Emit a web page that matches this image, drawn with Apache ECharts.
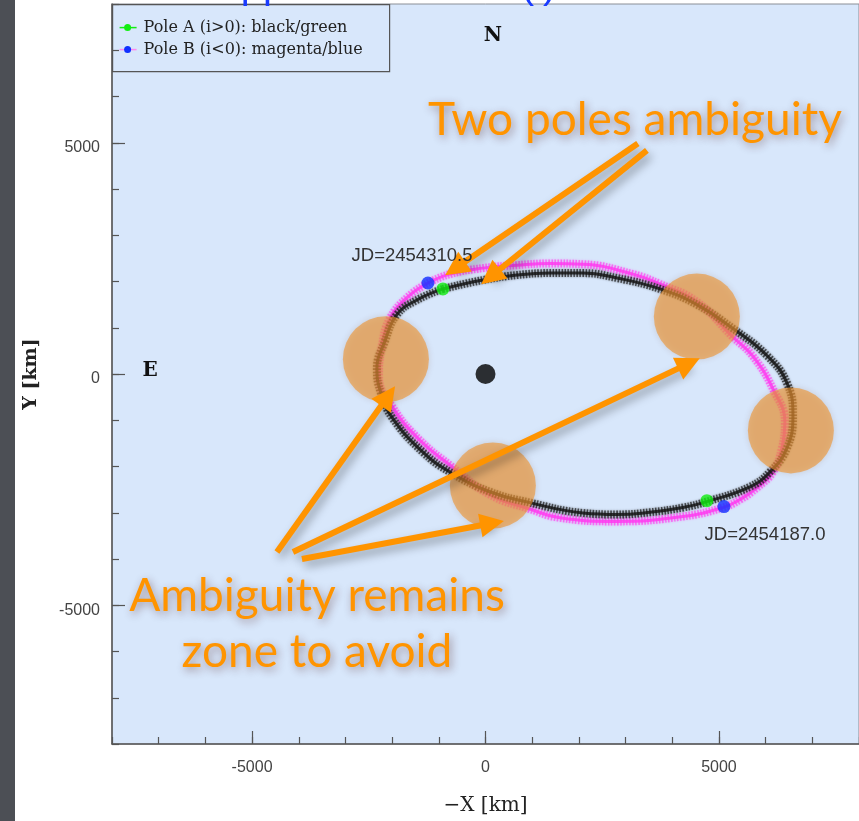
<!DOCTYPE html>
<html>
<head>
<meta charset="utf-8">
<script src="https://cdn.jsdelivr.net/npm/echarts@6/dist/echarts.min.js"></script>
<style>
html,body{margin:0;padding:0;background:#ffffff;}
#main{width:859px;height:821px;}
</style>
</head>
<body>
<div id="main"></div>
<script>
// ---- data (km) ----
const axisMin = -8000;
const axisMax = 8000;
const majorTicks = [-5000, 0, 5000];

// Pole A (i>0) orbit, black
const poleAOrbit = [
  [-912,1839],[-56,2032],[673,2139],[1379,2182],[2086,2182],[2814,2075],[3735,1840],
  [4528,1500],[5299,984],[6027,400],[6456,-192],[6585,-898],[6456,-1604],[6092,-2118],
  [5663,-2439],[4742,-2759],[4228,-2888],[3521,-2990],[2814,-3037],[2086,-3005],
  [951,-2781],[94,-2546],[-763,-2118],[-1341,-1690],[-1984,-963],[-2241,-406],
  [-2326,107],[-2155,706],[-1898,1283],[-1469,1600],[-912,1839]
];
// Pole B (i<0) orbit, magenta
const poleBOrbit = [
  [-1233,1968],[-762,2160],[-56,2289],[673,2353],[1379,2390],[2086,2374],[3157,2160],
  [3735,1946],[4528,1561],[5299,800],[5727,385],[6156,-321],[6413,-1048],[6349,-1604],
  [6156,-2118],[5813,-2460],[5449,-2717],[5085,-2888],[4228,-3080],[2814,-3187],
  [1593,-3110],[951,-2920],[94,-2610],[-763,-1968],[-1405,-1433],[-1984,-727],
  [-2284,-43],[-2219,599],[-2048,1198],[-1662,1668],[-1233,1968]
];
// epoch markers
const poleADots = [[-912,1839],[4742,-2738]];
const poleBDots = [[-1233,1968],[5107,-2866]];
const primary = [[0,0]];
// zones to avoid (annotation discs)
const zones = [[-2133,321],[4527,1241],[6541,-1219],[158,-2412]];
// annotation arrows: [tail, head]
const arrowsTop = [
  [[3264,4984],[-651,2282]],
  [[3457,4834],[109,2103]]
];
const arrowsBottom = [
  [[-4467,-3850],[-2086,-475]],
  [[-4124,-3850],[4357,229]],
  [[-3932,-4000],[141,-3228]]
];
const legendLabels = ['Pole A (i>0): black/green', 'Pole B (i<0): magenta/blue'];
const jdLabels = ['JD=2454310.5', 'JD=2454187.0'];

// ---- chart ----
const chart = echarts.init(document.getElementById('main'), null, {renderer:'canvas', width:859, height:821});

const orange = '#ff9400';
const annotShadow = {textShadowColor:'rgba(80,30,30,0.45)', textShadowBlur:8, textShadowOffsetX:2, textShadowOffsetY:3};

function orbitSeries(data, color, z, op){
  return [
    {type:'line', data:data, smooth:0.45, symbol:'none', silent:true, z:z,
     lineStyle:{color:color, width:8, type:[1.5,1.5], opacity:op, shadowBlur:2, shadowColor:color}},
    {type:'line', data:data, smooth:0.45, symbol:'none', silent:true, z:z,
     lineStyle:{color:color, width:3, opacity:0.85}}
  ];
}
const fmt = v => String(v);

const option = {
  animation:false,
  backgroundColor:'#ffffff',
  grid:{left:112, top:4, right:0, bottom:69, show:true, backgroundColor:'#d8e7fb', borderColor:'#8a8f96', borderWidth:1},
  xAxis:[
    {type:'value', min:axisMin, max:axisMax, position:'bottom',
     axisLine:{show:true, onZero:false, lineStyle:{color:'#555', width:1.5}},
     axisTick:{show:true, inside:true, length:13, customValues:majorTicks, lineStyle:{color:'#555', width:1.2}},
     axisLabel:{customValues:majorTicks, formatter:fmt, color:'#444', fontSize:16, margin:16, fontFamily:'Liberation Sans'},
     splitLine:{show:false},
     name:'\u2212X [km]', nameLocation:'middle', nameGap:52,
     nameTextStyle:{fontFamily:'DejaVu Serif', fontSize:20, color:'#222'}},
    {type:'value', min:axisMin, max:axisMax, interval:1000, position:'bottom',
     axisLine:{show:false, onZero:false}, axisTick:{show:true, inside:true, length:7, lineStyle:{color:'#555', width:1.2}},
     axisLabel:{show:false}, splitLine:{show:false}}
  ],
  yAxis:[
    {type:'value', min:axisMin, max:axisMax, position:'left',
     axisLine:{show:true, onZero:false, lineStyle:{color:'#555', width:1.5}},
     axisTick:{show:true, inside:true, length:13, customValues:majorTicks, lineStyle:{color:'#555', width:1.2}},
     axisLabel:{customValues:majorTicks, formatter:fmt, color:'#444', fontSize:16, margin:12, fontFamily:'Liberation Sans', verticalAlign:'top', lineHeight:10},
     splitLine:{show:false},
     name:'Y [km]', nameLocation:'middle', nameGap:71, nameRotate:90,
     nameTextStyle:{fontFamily:'DejaVu Serif', fontSize:19, fontWeight:'bold', color:'#222'}},
    {type:'value', min:axisMin, max:axisMax, interval:1000, position:'left',
     axisLine:{show:false, onZero:false}, axisTick:{show:true, inside:true, length:7, lineStyle:{color:'#555', width:1.2}},
     axisLabel:{show:false}, splitLine:{show:false}}
  ],
  series:[
    ...orbitSeries(poleBOrbit, '#ff3cf0', 2, 0.6),
    ...orbitSeries(poleAOrbit, '#161616', 3, 0.65),
    {type:'scatter', data:primary, symbolSize:20, itemStyle:{color:'#000'}, z:4, silent:true},
    {type:'scatter', data:zones, symbolSize:86, z:5, silent:true,
     itemStyle:{color:'rgba(238,148,48,0.78)', shadowBlur:6, shadowColor:'rgba(120,60,0,0.25)'}},
    {type:'scatter', data:poleADots, symbolSize:13, itemStyle:{color:'#12ee12'}, z:6, silent:true},
    {type:'scatter', data:poleBDots, symbolSize:13, itemStyle:{color:'#1030ff'}, z:6, silent:true},
    {type:'lines', coordinateSystem:'cartesian2d', z:10, silent:true,
     data:arrowsTop.concat(arrowsBottom).map(a => ({coords:a})),
     symbol:['none','triangle'], symbolSize:24,
     lineStyle:{color:orange, width:6, opacity:1, curveness:0, shadowBlur:10, shadowColor:'rgba(0,0,0,0.35)', shadowOffsetX:3, shadowOffsetY:5}}
  ],
  graphic:[
    {type:'rect', left:0, top:0, shape:{width:15, height:821}, style:{fill:'#4c4f55'}, z:100},
    {type:'text', left:214, top:-33, z:100,
     style:{text:'Apparent orbit of (i)', font:'40px "Liberation Sans"', fill:'#1a3cff'}},
    // legend box
    {type:'group', left:112, top:4, z:50, children:[
      {type:'rect', shape:{x:0, y:0, width:277, height:67}, style:{fill:'#d8e7fb', stroke:'#555', lineWidth:1.2}},
      {type:'line', shape:{x1:7, y1:23, x2:24, y2:23}, style:{stroke:'#12ee12', lineWidth:1.5}},
      {type:'circle', shape:{cx:15, cy:23, r:3.5}, style:{fill:'#12ee12'}},
      {type:'text', x:31, y:23, style:{text:legendLabels[0], font:'16px "DejaVu Serif"', fill:'#222', verticalAlign:'middle'}},
      {type:'line', shape:{x1:7, y1:45, x2:24, y2:45}, style:{stroke:'#ff88f0', lineWidth:1.5}},
      {type:'circle', shape:{cx:15, cy:45, r:3.5}, style:{fill:'#1030ff'}},
      {type:'text', x:31, y:45, style:{text:legendLabels[1], font:'16px "DejaVu Serif"', fill:'#222', verticalAlign:'middle'}}
    ]},
    {type:'text', x:493, y:36, z:50, style:{text:'N', font:'bold 20px "DejaVu Serif"', fill:'#111', align:'center', verticalAlign:'middle'}},
    {type:'text', x:150, y:371, z:50, style:{text:'E', font:'bold 20px "DejaVu Serif"', fill:'#111', align:'center', verticalAlign:'middle'}},
    {type:'text', x:412, y:256, z:50, style:{text:jdLabels[0], font:'18.5px "Liberation Sans"', fill:'#333', align:'center', verticalAlign:'middle'}},
    {type:'text', x:765, y:535, z:50, style:{text:jdLabels[1], font:'18.5px "Liberation Sans"', fill:'#333', align:'center', verticalAlign:'middle'}},
    {type:'text', x:635, y:120, z:60, style:Object.assign({text:'Two poles ambiguity', font:'46px Lato', fill:orange, align:'center', verticalAlign:'middle'}, annotShadow)},
    {type:'text', x:317, y:596, z:60, style:Object.assign({text:'Ambiguity remains', font:'46px Lato', fill:orange, align:'center', verticalAlign:'middle'}, annotShadow)},
    {type:'text', x:317, y:652, z:60, style:Object.assign({text:'zone to avoid', font:'46px Lato', fill:orange, align:'center', verticalAlign:'middle'}, annotShadow)}
  ]
};
chart.setOption(option);
</script>
</body>
</html>
